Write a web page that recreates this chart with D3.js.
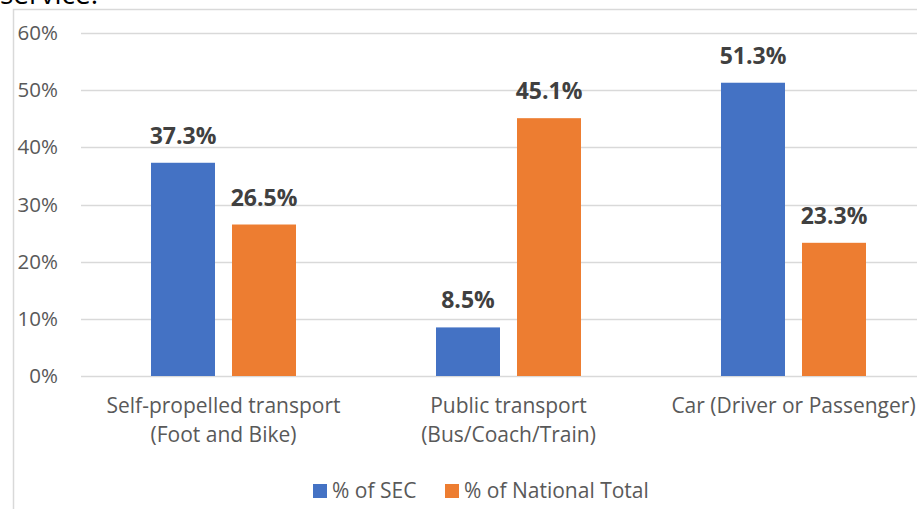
<!DOCTYPE html>
<html>
<head>
<meta charset="utf-8">
<script src="https://cdn.jsdelivr.net/npm/d3@7"></script>
<style>
  body { margin: 0; background: #fff; }
  svg { display: block; font-family: "Open Sans", sans-serif; }
</style>
</head>
<body>
<div id="chart"></div>
<script>
// categories, series and values
let categories = [
  ["Self-propelled transport", "(Foot and Bike)"],
  ["Public transport", "(Bus/Coach/Train)"],
  ["Car (Driver or Passenger)"],
];
let seriesNames = ["% of SEC", "% of National Total"];
let secValues = [37.3, 8.5, 51.3];
let nationalValues = [26.5, 45.1, 23.3];
let yTicks = [0, 10, 20, 30, 40, 50, 60];
let colors = ["#4472C4", "#ED7D31"];

let width = 917;
let height = 509;

let svg = d3
  .select("#chart")
  .append("svg")
  .attr("width", width)
  .attr("height", height);

// leftover caption from the page above the chart (cut off in the original)
svg
  .append("text")
  .attr("x", 0)
  .attr("y", 4)
  .attr("font-size", 28)
  .attr("fill", "#000")
  .text("service.");

// chart frame
svg
  .append("rect")
  .attr("x", 13.5)
  .attr("y", 9.5)
  .attr("width", 1000)
  .attr("height", 600)
  .attr("fill", "none")
  .attr("stroke", "#d9d9d9")
  .attr("stroke-width", 1.5);

let plotLeft = 81;
let plotRight = 936;

let yScale = d3.scaleLinear().domain([0, 60]).range([376, 33]);

let x0 = d3
  .scaleBand()
  .domain(categories.map((d, i) => i))
  .range([plotLeft, plotRight]);

let x1 = d3
  .scaleBand()
  .domain([0, 1])
  .range([0, 145])
  .paddingInner(0.21);

let groupOffset = (x0.bandwidth() - 145) / 2;

// gridlines
svg
  .append("g")
  .selectAll("line")
  .data(yTicks)
  .enter()
  .append("line")
  .attr("x1", plotLeft)
  .attr("x2", plotRight)
  .attr("y1", (d) => Math.round(yScale(d)) + 0.5)
  .attr("y2", (d) => Math.round(yScale(d)) + 0.5)
  .attr("stroke", "#d9d9d9")
  .attr("stroke-width", 1.5);

// y axis labels
let yAxis = d3
  .axisLeft(yScale)
  .tickValues(yTicks)
  .tickFormat((d) => d + "%")
  .tickSize(0)
  .tickPadding(0);

svg
  .append("g")
  .attr("transform", "translate(58,0)")
  .call(yAxis)
  .call((g) => g.select(".domain").remove())
  .selectAll("text")
  .attr("font-family", "Open Sans")
  .attr("font-size", 20.5)
  .attr("fill", "#595959");

let rows = categories.map((c, i) => ({
  i: i,
  values: [secValues[i], nationalValues[i]],
}));

let groups = svg
  .append("g")
  .selectAll("g")
  .data(rows)
  .enter()
  .append("g")
  .attr("transform", (d) => "translate(" + (x0(d.i) + groupOffset) + ",0)");

groups
  .selectAll("rect")
  .data((d) => d.values)
  .enter()
  .append("rect")
  .attr("x", (d, j) => x1(j))
  .attr("y", (d) => yScale(d))
  .attr("width", x1.bandwidth())
  .attr("height", (d) => yScale(0) - yScale(d))
  .attr("fill", (d, j) => colors[j]);

groups
  .selectAll("text")
  .data((d) => d.values)
  .enter()
  .append("text")
  .attr("x", (d, j) => x1(j) + x1.bandwidth() / 2)
  .attr("y", (d) => yScale(d) - 19)
  .attr("text-anchor", "middle")
  .attr("font-size", 23)
  .attr("font-weight", "bold")
  .attr("fill", "#404040")
  .text((d) => d.toFixed(1) + "%");

// category labels
let catLabels = svg
  .append("g")
  .selectAll("text")
  .data(categories)
  .enter()
  .append("text")
  .attr("text-anchor", "middle")
  .attr("font-size", 21)
  .attr("fill", "#595959")
  .attr("x", (d, i) => x0(i) + x0.bandwidth() / 2)
  .attr("y", 413);

catLabels
  .selectAll("tspan")
  .data((d) => d)
  .enter()
  .append("tspan")
  .attr("x", function () {
    return d3.select(this.parentNode).attr("x");
  })
  .attr("dy", (d, k) => (k === 0 ? 0 : 29))
  .text((d) => d);

// legend
let legendX = [313, 445];
let legend = svg
  .append("g")
  .selectAll("g")
  .data(seriesNames)
  .enter()
  .append("g")
  .attr("transform", (d, i) => "translate(" + legendX[i] + ",484)");

legend
  .append("rect")
  .attr("width", 14)
  .attr("height", 14)
  .attr("fill", (d, i) => colors[i]);

legend
  .append("text")
  .attr("x", 19)
  .attr("y", 14)
  .attr("font-size", 21)
  .attr("fill", "#595959")
  .text((d) => d);
</script>
</body>
</html>
